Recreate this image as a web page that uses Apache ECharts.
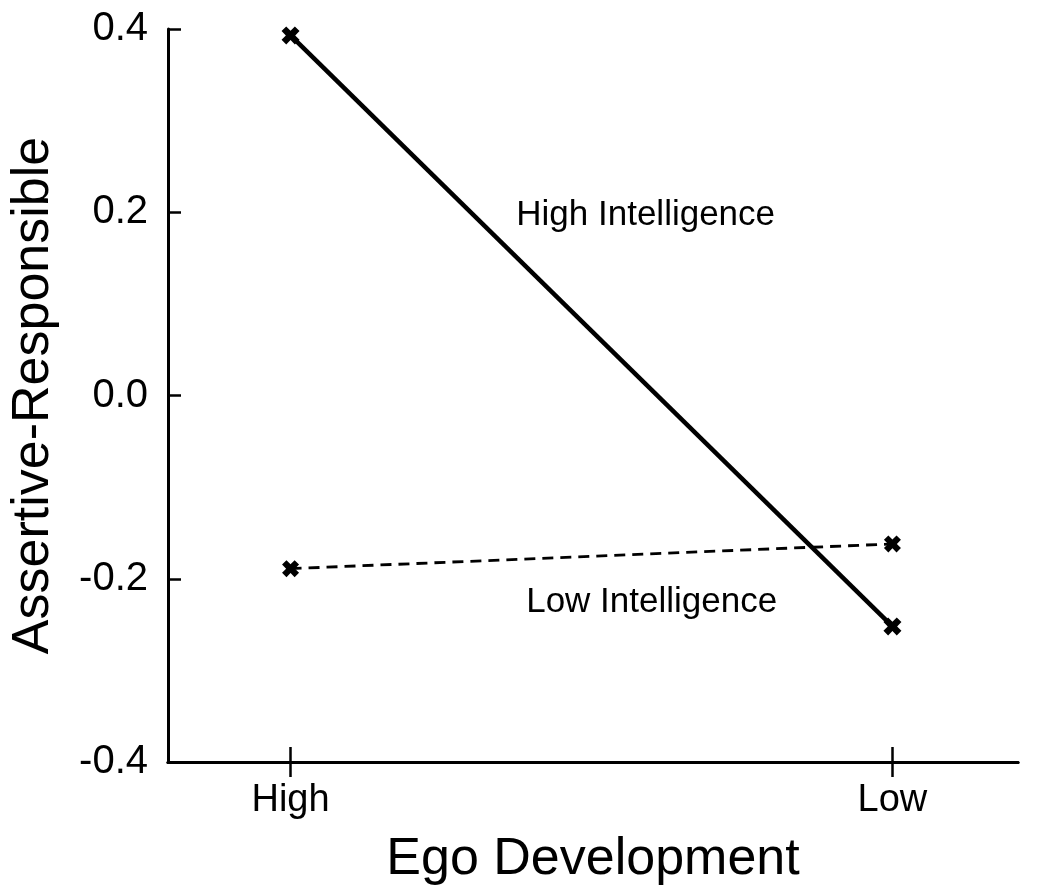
<!DOCTYPE html>
<html>
<head>
<meta charset="utf-8">
<script src="https://cdn.jsdelivr.net/npm/echarts@6/dist/echarts.min.js"></script>
<style>
html,body{margin:0;padding:0;background:#fff;}
#chart{width:1050px;height:893px;}
</style>
</head>
<body>
<div id="chart"></div>
<script>
// Data
const categories = ['High', 'Low'];            // Ego Development levels (x positions 0 and 1)
const highIntelligence = [0.393, -0.252];
const lowIntelligence = [-0.189, -0.162];
const yTicks = [-0.4, -0.2, 0.0, 0.2, 0.4];
const seriesNames = ['High Intelligence', 'Low Intelligence'];
const labelHigh = [0.59, 0.197];   // data coords of annotation
const labelLow = [0.60, -0.226];

const FONT = '"Liberation Sans", Arial, Helvetica, sans-serif';
const crossPath = 'path://M0,2.6L2.6,0L5,2.4L7.4,0L10,2.6L7.6,5L10,7.4L7.4,10L5,7.6L2.6,10L0,7.4L2.4,5Z';

const chart = echarts.init(document.getElementById('chart'), null, {renderer: 'canvas'});

const xMin = -0.2036, xMax = 1.2086;
const catIdx = categories.map((c, i) => i);

function xAxisBase(inside, show) {
  return {
    type: 'value', min: xMin, max: xMax, position: 'bottom',
    axisLine: {show: true, onZero: false, lineStyle: {color: '#000', width: 3}},
    axisTick: {show: true, inside: inside, length: 15, customValues: catIdx, lineStyle: {color: '#000', width: 2.5}},
    axisLabel: show ? {
      show: true, customValues: catIdx, margin: 20, color: '#000', fontSize: 38, fontFamily: FONT,
      formatter: v => categories[Math.round(v)]
    } : {show: false},
    splitLine: {show: false}
  };
}

const xa1 = xAxisBase(false, true);
xa1.name = 'Ego Development';
xa1.nameLocation = 'middle';
xa1.nameGap = 72;
xa1.nameTextStyle = {color: '#000', fontSize: 52, fontFamily: FONT};
const xa2 = xAxisBase(true, false);

function labelSeries(name, coord) {
  return {
    type: 'scatter', xAxisIndex: 0, silent: true,
    data: [coord], symbol: 'circle', symbolSize: 1,
    itemStyle: {color: 'rgba(0,0,0,0)'},
    label: {show: true, position: 'inside', formatter: name, color: '#000', opacity: 1,
            textBorderWidth: 0, fontSize: 35, fontFamily: FONT}
  };
}

chart.setOption({
  animation: false,
  backgroundColor: '#fff',
  grid: {left: 160, right: 32, top: 29, bottom: 131, containLabel: false},
  xAxis: [xa1, xa2],
  yAxis: {
    type: 'value', min: yTicks[0], max: yTicks[yTicks.length - 1], interval: 0.2,
    name: 'Assertive-Responsible', nameLocation: 'middle', nameGap: 108,
    nameTextStyle: {color: '#000', fontSize: 52, fontFamily: FONT},
    axisLine: {show: true, onZero: false, lineStyle: {color: '#000', width: 3}},
    axisTick: {show: true, inside: true, length: 13, lineStyle: {color: '#000', width: 2.5}},
    axisLabel: {color: '#000', fontSize: 40, fontFamily: FONT, margin: 20, formatter: v => v.toFixed(1)},
    splitLine: {show: false}
  },
  series: [
    {
      name: seriesNames[0], type: 'line', xAxisIndex: 0,
      data: highIntelligence.map((v, i) => [i, v]),
      symbol: crossPath, symbolSize: 18,
      itemStyle: {color: '#000'},
      lineStyle: {color: '#000', width: 4.5}
    },
    {
      name: seriesNames[1], type: 'line', xAxisIndex: 0,
      data: lowIntelligence.map((v, i) => [i, v]),
      symbol: crossPath, symbolSize: 17,
      itemStyle: {color: '#000'},
      lineStyle: {color: '#000', width: 2.8, type: [11, 7]}
    },
    labelSeries(seriesNames[0], labelHigh),
    labelSeries(seriesNames[1], labelLow)
  ]
});
</script>
</body>
</html>
